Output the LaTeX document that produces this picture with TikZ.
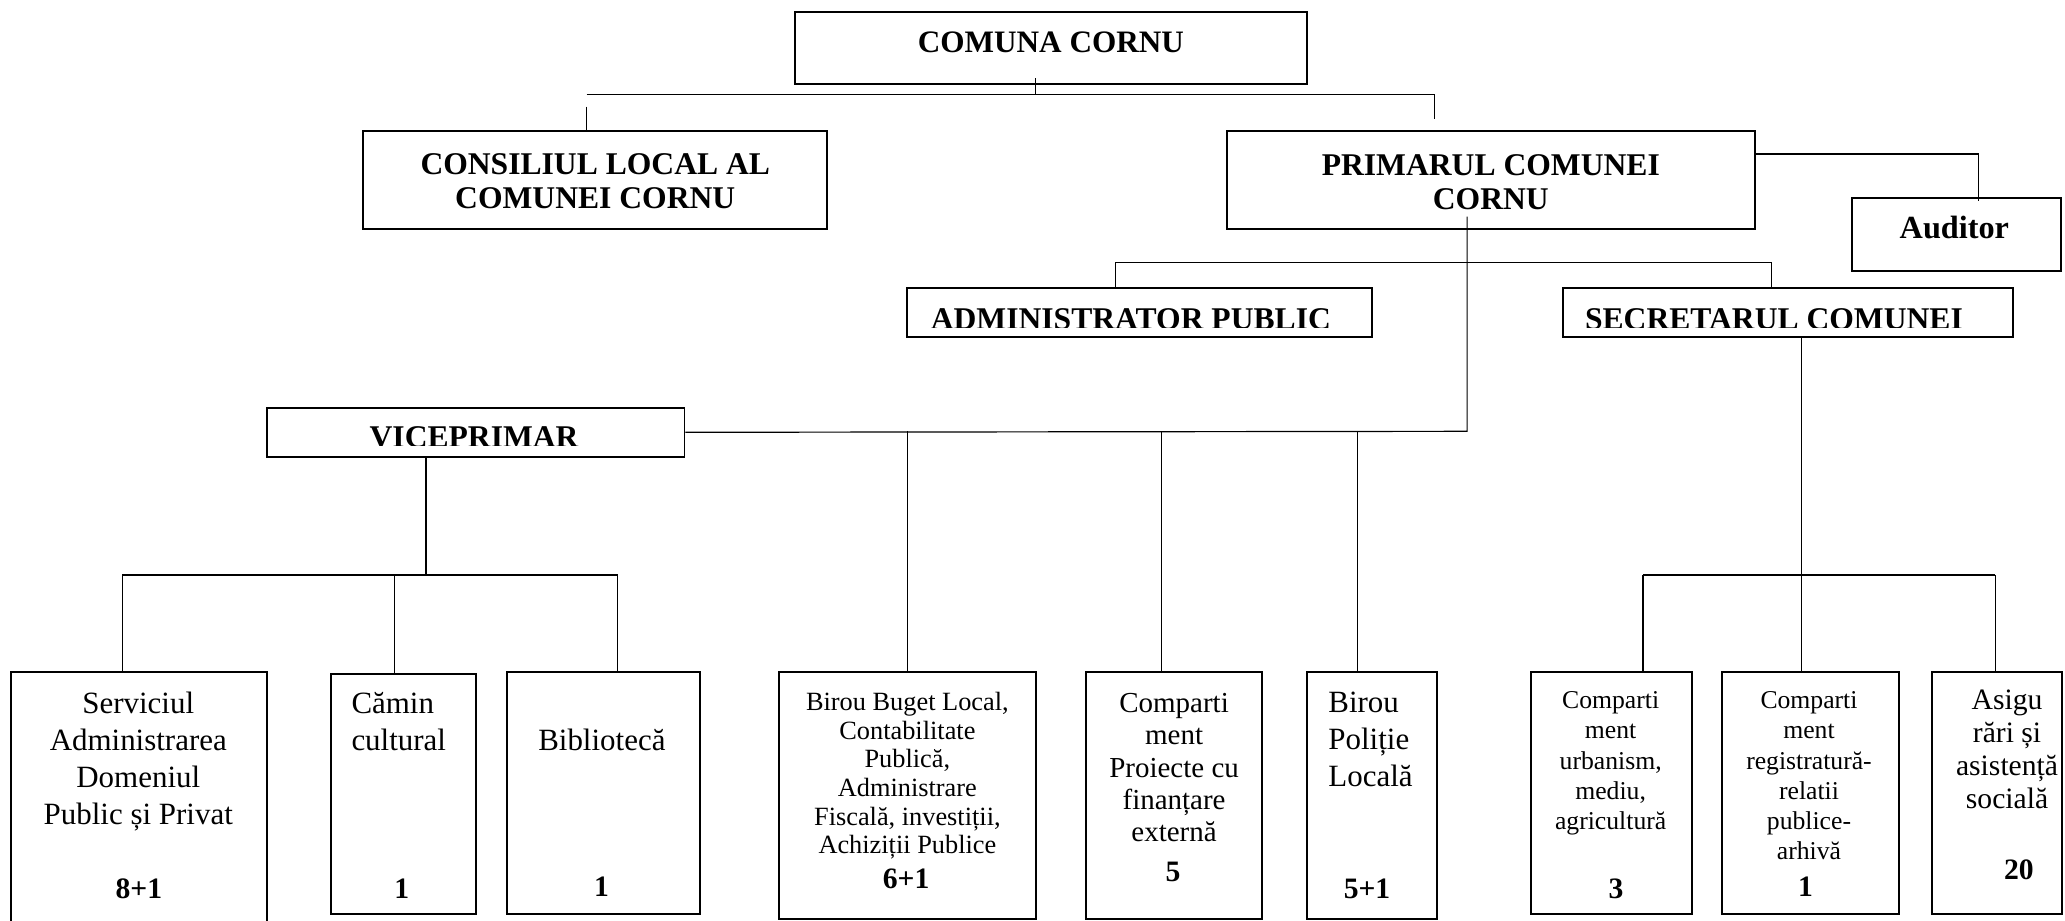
\documentclass[tikz,border=0pt]{standalone}
\usepackage{fontspec}
\setmainfont{Liberation Serif}
\begin{document}
\begin{tikzpicture}[x=1pt,y=-1pt,
		box/.style={draw,line width=1.5pt,inner sep=0pt,anchor=north west},
		link/.style={line width=0.9pt},
		head/.style={font=\fontsize{24}{26}\selectfont\bfseries,align=center,inner sep=0pt},
		body/.style={align=center,inner sep=0pt,anchor=north},
		nr/.style={font=\fontsize{22.5}{24}\selectfont\bfseries,inner sep=0pt,anchor=base}]
		\useasboundingbox (0,0) rectangle (1568,699);
		\clip (0,0) rectangle (1568,699);
		% boxes, upper levels
		\node[box,minimum width=389pt,minimum height=55pt] (comuna) at (603,8) {};
		\node[box,minimum width=352pt,minimum height=74pt] (consiliu) at (275,99) {};
		\node[box,minimum width=401pt,minimum height=74pt] (primar) at (931,99) {};
		\node[box,minimum width=158.5pt,minimum height=55.5pt] (auditor) at (1405.5,149.5) {};
		\node[box,minimum width=353pt,minimum height=37pt] (admin) at (688,218) {};
		\node[box,minimum width=342pt,minimum height=37pt] (secretar) at (1186,218) {};
		\node[box,minimum width=317pt,minimum height=37pt] (vice) at (202,309) {};
		% boxes, bottom row
		\node[box,minimum width=195pt,minimum height=200pt] (serv) at (7.3,509.5) {};
		\node[box,minimum width=110pt,minimum height=182pt] (camin) at (250.5,511) {};
		\node[box,minimum width=146.7pt,minimum height=183.5pt] (biblio) at (384,509.5) {};
		\node[box,minimum width=195pt,minimum height=187.5pt] (buget) at (590.6,509.5) {};
		\node[box,minimum width=133.6pt,minimum height=187.5pt] (proiecte) at (824,509.5) {};
		\node[box,minimum width=99pt,minimum height=187.5pt] (politie) at (991.6,509.5) {};
		\node[box,minimum width=122pt,minimum height=183.5pt] (urban) at (1162,509.5) {};
		\node[box,minimum width=134pt,minimum height=183.5pt] (registru) at (1307,509.5) {};
		\node[box,minimum width=99pt,minimum height=183.5pt] (asist) at (1466,509.5) {};
		% titles
		\node[head,font=\fontsize{23.7}{26}\selectfont\bfseries,anchor=base] (comuna-t) at (798,39.7) {COMUNA CORNU};
		\node[head,anchor=north] (consiliu-t) at (452,116.5) {CONSILIUL LOCAL AL\\COMUNEI CORNU};
		\node[head,anchor=north] (primar-t) at (1132,117) {PRIMARUL COMUNEI\\CORNU};
		\node[head,font=\fontsize{24.5}{26}\selectfont\bfseries,anchor=base] (auditor-t) at (1484,181) {Auditor};
		% these three titles are cut off at the bottom
		\begin{scope}
		\clip (admin.north west) rectangle ([yshift=8pt]admin.south east)
		(secretar.north west) rectangle ([yshift=8pt]secretar.south east)
		(vice.north west) rectangle ([yshift=9pt]vice.south east);
		\node[head,anchor=base] (admin-t) at (858.7,250) {ADMINISTRATOR PUBLIC};
		\node[head,anchor=base] (secretar-t) at (1347,250) {SECRETARUL COMUNEI};
		\node[head,anchor=base] (vice-t) at (360,340) {VICEPRIMAR};
		\end{scope}
		% bottom row texts
		\node[body,font=\fontsize{23.5}{28}\selectfont] (serv-t) at (105,525.5) {Serviciul\\Administrarea\\Domeniul\\Public și Privat};
		\node[nr] (serv-n) at (105.5,682) {8+1};
		\node[body,align=left,anchor=north west,font=\fontsize{23.5}{28}\selectfont] (camin-t) at (266.7,525.5) {Cămin\\cultural};
		\node[nr] (camin-n) at (305,682) {1};
		\node[body,font=\fontsize{23.5}{28}\selectfont] (biblio-t) at (457,553.5) {Bibliotecă};
		\node[nr] (biblio-n) at (456.7,681) {1};
		\node[body,font=\fontsize{20}{21.8}\selectfont] (buget-t) at (689,525.3) {Birou Buget Local,\\Contabilitate\\Publică,\\Administrare\\Fiscală, investiții,\\Achiziții Publice};
		\node[nr] (buget-n) at (688,675) {6+1};
		\node[body,font=\fontsize{22}{24.4}\selectfont] (proiecte-t) at (891.5,526.5) {Comparti\\ment\\Proiecte cu\\finanțare\\externă};
		\node[nr] (proiecte-n) at (890.7,669.5) {5};
		\node[body,align=left,anchor=north west,font=\fontsize{23.5}{28}\selectfont] (politie-t) at (1008.5,525.5) {Birou\\Poliție\\Locală};
		\node[nr] (politie-n) at (1038,682) {5+1};
		\node[body,font=\fontsize{19.5}{23}\selectfont] (urban-t) at (1223,524.8) {Comparti\\ment\\urbanism,\\mediu,\\agricultură};
		\node[nr] (urban-n) at (1227,682) {3};
		\node[body,font=\fontsize{19.5}{23}\selectfont] (registru-t) at (1373.6,524.8) {Comparti\\ment\\registratură-\\relatii\\publice-\\arhivă};
		\node[nr] (registru-n) at (1371,681) {1};
		\node[body,font=\fontsize{22.5}{24.9}\selectfont] (asist-t) at (1524,524) {Asigu\\rări și\\asistență\\socială};
		\node[nr] (asist-n) at (1533,668) {20};
		% links, top
		\coordinate (cc) at (786,72);
		\coordinate (cl) at (445.5,72);
		\coordinate (pr) at (1089,72);
		\draw[link] (cc |- comuna.south) ++(0,-5) -- (cc);
		\draw[link] (cl) -- (pr) -- ++(0,18);
		\draw[link] (cl) ++(0,9) -- (cl |- consiliu.north);
		% mayor to auditor
		\coordinate (au) at (1502,117);
		\draw[link] (au -| primar.east) -- (au) -- (au |- auditor.north) -- ++(0,3.5);
		% mayor down to the viceprimar line
		\coordinate (pv) at (1114,327.5);
		\draw[link] (pv |- primar.south) ++(0,-10) -- (pv) -- (vice.east);
		\coordinate (as) at (847,199.5);
		\coordinate (sc) at (1345,199.5);
		\draw[link] (as |- admin.north) -- (as) -- (sc) -- (sc |- secretar.north);
		% drops from the viceprimar line
		\coordinate (p2) at (882,327.5);
		\coordinate (p3) at (1031,327.5);
		\draw[link] (buget.north |- pv) -- (buget.north);
		\draw[link] (p2) -- (p2 |- proiecte.north);
		\draw[link] (p3) -- (p3 |- politie.north);
		% viceprimar group
		\coordinate (vd) at (323.5,436.6);
		\coordinate (v1) at (93,436.6);
		\coordinate (v2) at (299.5,436.6);
		\coordinate (v3) at (469,436.6);
		\draw[link] (vd |- vice.south) -- (vd);
		\draw[link] (v1) -- (v3);
		\draw[link] (v1) -- (v1 |- serv.north);
		\draw[link] (v2) -- (v2 |- camin.north);
		\draw[link] (v3) -- (v3 |- biblio.north);
		% secretar group
		\coordinate (sd) at (1368,436.6);
		\coordinate (s1) at (1247.5,436.6);
		\coordinate (s3) at (1515,436.6);
		\draw[link] (sd |- secretar.south) -- (sd);
		\draw[link] (s1) -- (s3);
		\draw[link] (s1) -- (s1 |- urban.north);
		\draw[link] (sd) -- (sd |- registru.north);
		\draw[link] (s3) -- (s3 |- asist.north);
\end{tikzpicture}
\end{document}
